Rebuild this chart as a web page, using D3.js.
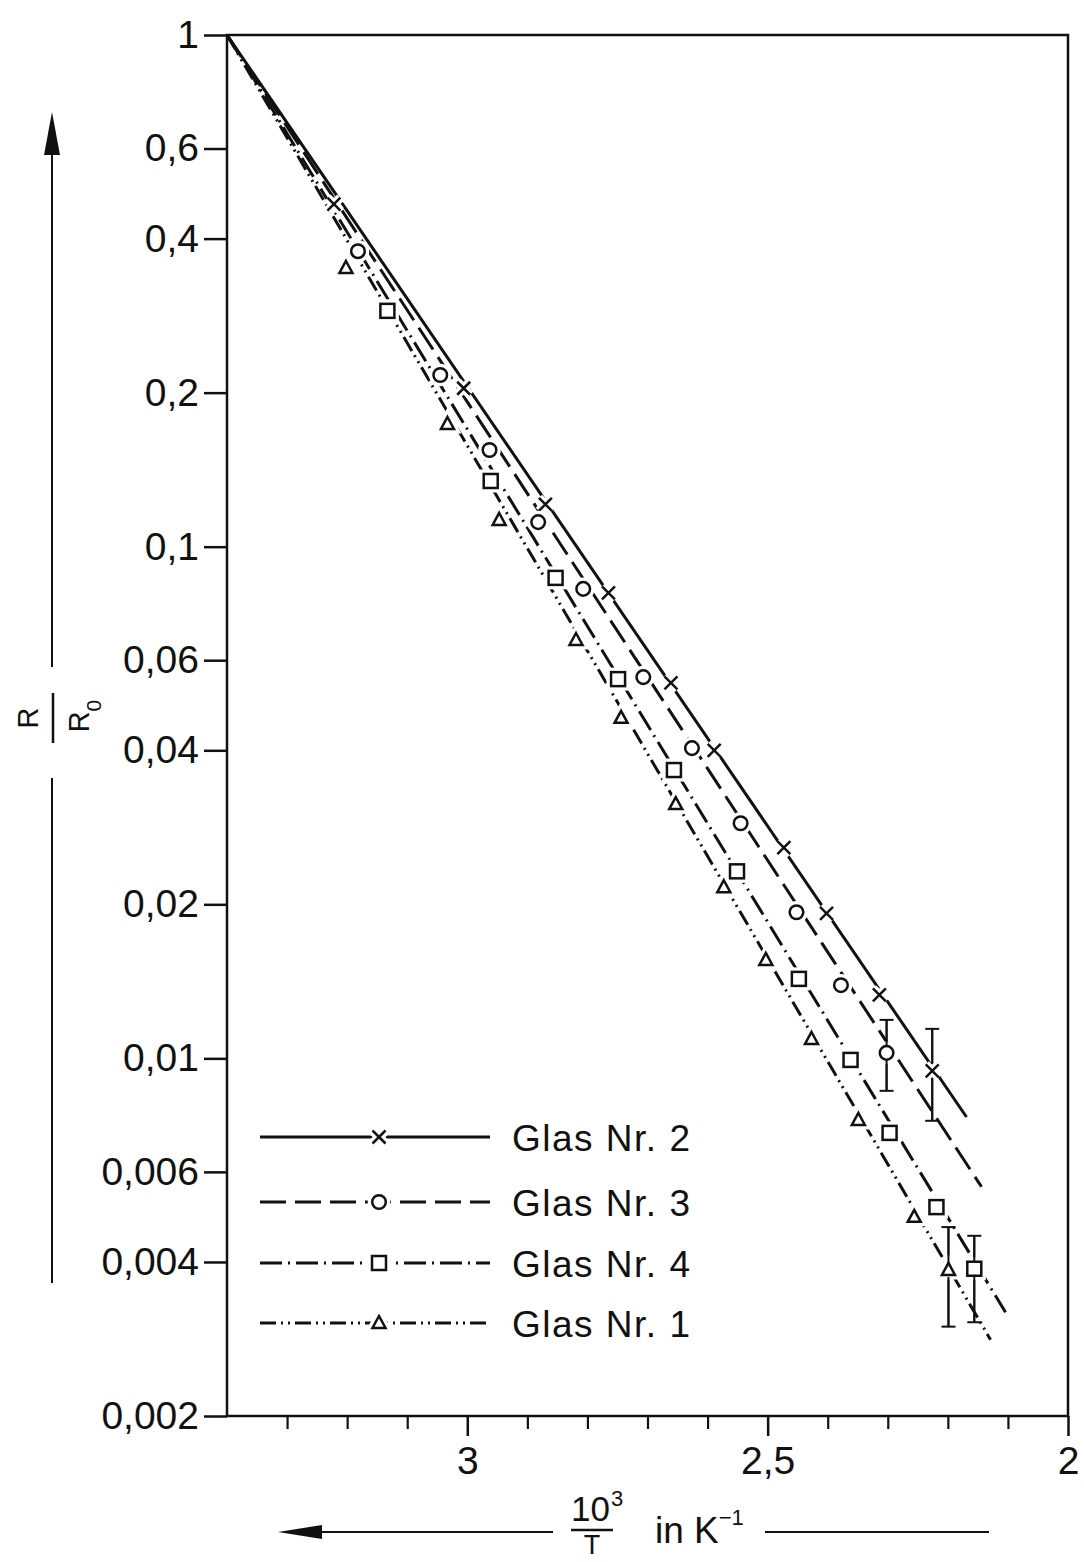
<!DOCTYPE html>
<html>
<head>
<meta charset="utf-8">
<script src="https://cdn.jsdelivr.net/npm/d3@7"></script>
<style>
  body { margin: 0; background: #fff; }
  svg { display: block; }
  text { font-family: "Liberation Sans", Arial, sans-serif; fill: #111; }
</style>
</head>
<body>
<script>
var glas2X = [3.222, 3.006, 2.870, 2.765, 2.661, 2.589, 2.473, 2.402, 2.314, 2.226];
var glas2Y = [0.467, 0.204, 0.121, 0.0812, 0.0542, 0.0400, 0.0258, 0.0192, 0.0133, 0.00945];
var glas3X = [3.182, 3.045, 2.963, 2.882, 2.807, 2.707, 2.626, 2.545, 2.452, 2.378, 2.302];
var glas3Y = [0.378, 0.2165, 0.1545, 0.1117, 0.0827, 0.0556, 0.0404, 0.0288, 0.0193, 0.0139, 0.01025];
var glas4X = [3.133, 2.961, 2.853, 2.749, 2.656, 2.551, 2.448, 2.362, 2.297, 2.219, 2.156];
var glas4Y = [0.289, 0.1344, 0.0869, 0.0551, 0.0366, 0.0232, 0.0143, 0.00993, 0.00715, 0.00512, 0.00388];
var glas1X = [3.202, 3.033, 2.947, 2.819, 2.744, 2.653, 2.573, 2.503, 2.427, 2.349, 2.256, 2.199];
var glas1Y = [0.3505, 0.1737, 0.1128, 0.0657, 0.0463, 0.0314, 0.0216, 0.01557, 0.01091, 0.00758, 0.0049, 0.00386];

// fitted straight lines (start, end)
var fit2X = [3.4, 2.169], fit2Y = [1, 0.00768];
var fit3X = [3.4, 2.144], fit3Y = [1, 0.00561];
var fit4X = [3.4, 2.104], fit4Y = [1, 0.00319];
var fit1X = [3.4, 2.129], fit1Y = [1, 0.00282];

// error bars on the last point
var errX = [2.226, 2.302, 2.156, 2.199];
var errLow = [0.00755, 0.00864, 0.00305, 0.00299];
var errHigh = [0.01142, 0.01189, 0.00450, 0.00468];

var seriesNames = ["Glas Nr. 2", "Glas Nr. 3", "Glas Nr. 4", "Glas Nr. 1"];
var markerTypes = ["cross", "circle", "square", "triangle"];
var dashes = [null, "26,9", "22,6,2,6", "16,5,2,5,2,5"];

var yTicks = [1, 0.6, 0.4, 0.2, 0.1, 0.06, 0.04, 0.02, 0.01, 0.006, 0.004, 0.002];
var yTickLabels = ["1", "0,6", "0,4", "0,2", "0,1", "0,06", "0,04", "0,02", "0,01", "0,006", "0,004", "0,002"];
var xMajor = [3, 2.5, 2];
var xMajorLabels = ["3", "2,5", "2"];
var xMinor = [3.3, 3.2, 3.1, 2.9, 2.8, 2.7, 2.6, 2.4, 2.3, 2.2, 2.1];

var totalWidth = 1084, totalHeight = 1562;
var margins = { left: 227, right: 1068, top: 35, bottom: 1416 };

var series = [
  { xs: glas2X, ys: glas2Y, fx: fit2X, fy: fit2Y },
  { xs: glas3X, ys: glas3Y, fx: fit3X, fy: fit3Y },
  { xs: glas4X, ys: glas4Y, fx: fit4X, fy: fit4Y },
  { xs: glas1X, ys: glas1Y, fx: fit1X, fy: fit1Y }
];

var x = d3.scaleLinear().domain([3.4, 2]).range([margins.left, margins.right]);
var y = d3.scaleLog().domain([1, 0.002]).range([margins.top, margins.bottom]);

var svg = d3.select("body").append("svg")
  .attr("width", totalWidth)
  .attr("height", totalHeight);

var ink = "#111";

// axes
var yAxis = d3.axisLeft(y)
  .tickValues(yTicks)
  .tickFormat(function(d, i) { return yTickLabels[i]; })
  .tickSize(23)
  .tickPadding(5);

var gy = svg.append("g")
  .attr("transform", "translate(" + margins.left + ",0)")
  .call(yAxis);
gy.select(".domain").remove();
gy.selectAll("line").attr("stroke", ink).attr("stroke-width", 2.5);
gy.selectAll("text").attr("font-size", 39).attr("fill", ink)
  .style("font-family", "'Liberation Sans', Arial, sans-serif");

var gxMinor = svg.append("g")
  .attr("transform", "translate(0," + margins.bottom + ")")
  .call(d3.axisBottom(x).tickValues(xMinor).tickSize(13).tickFormat(""));
gxMinor.select(".domain").remove();
gxMinor.selectAll("line").attr("stroke", ink).attr("stroke-width", 2.2);

var gx = svg.append("g")
  .attr("transform", "translate(0," + margins.bottom + ")")
  .call(d3.axisBottom(x).tickValues(xMajor)
    .tickFormat(function(d, i) { return xMajorLabels[i]; })
    .tickSize(20).tickPadding(10));
gx.select(".domain").remove();
gx.selectAll("line").attr("stroke", ink).attr("stroke-width", 2.5);
gx.selectAll("text").attr("font-size", 39).attr("fill", ink)
  .style("font-family", "'Liberation Sans', Arial, sans-serif");

// frame
svg.append("rect")
  .attr("x", margins.left).attr("y", margins.top)
  .attr("width", margins.right - margins.left).attr("height", margins.bottom - margins.top)
  .attr("fill", "none").attr("stroke", ink).attr("stroke-width", 2.5);

// fitted lines
var line = d3.line()
  .x(function(d) { return x(d[0]); })
  .y(function(d) { return y(d[1]); });

series.forEach(function(s, i) {
  svg.append("path")
    .datum(d3.zip(s.fx, s.fy))
    .attr("d", line)
    .attr("fill", "none")
    .attr("stroke", ink)
    .attr("stroke-width", 3)
    .attr("stroke-dasharray", dashes[i]);
});

// error bars
errX.forEach(function(ex, i) {
  var g = svg.append("g").attr("stroke", ink).attr("stroke-width", 2);
  g.append("line").attr("x1", x(ex)).attr("x2", x(ex))
    .attr("y1", y(errLow[i])).attr("y2", y(errHigh[i]));
  [errLow[i], errHigh[i]].forEach(function(v) {
    g.append("line").attr("x1", x(ex) - 7).attr("x2", x(ex) + 7)
      .attr("y1", y(v)).attr("y2", y(v));
  });
});

function drawMarker(g, type, cx, cy) {
  [["#fff", 9], [ink, 2.5]].forEach(function(st) {
    var m;
    if (type === "cross") {
      m = g.append("path").attr("d", "M-6.5,-6.5L6.5,6.5M-6.5,6.5L6.5,-6.5");
    } else if (type === "circle") {
      m = g.append("circle").attr("r", 6.8);
    } else if (type === "square") {
      m = g.append("rect").attr("x", -7).attr("y", -7).attr("width", 14).attr("height", 14);
    } else {
      m = g.append("path").attr("d", "M0,-7L6.5,5L-6.5,5Z");
    }
    m.attr("transform", "translate(" + cx + "," + cy + ")")
      .attr("fill", st[0] === "#fff" ? "#fff" : "none")
      .attr("stroke", st[0]).attr("stroke-width", st[1]);
  });
}

var gm = svg.append("g");
series.forEach(function(s, i) {
  s.xs.forEach(function(v, j) {
    drawMarker(gm, markerTypes[i], x(v), y(s.ys[j]));
  });
});
// redraw error bar stems over the marker halos
errX.forEach(function(ex, i) {
  var yc = y(series[i].ys[series[i].ys.length - 1]);
  var g = svg.append("g").attr("stroke", ink).attr("stroke-width", 2);
  g.append("line").attr("x1", x(ex)).attr("x2", x(ex))
    .attr("y1", y(errHigh[i])).attr("y2", yc - 7);
  g.append("line").attr("x1", x(ex)).attr("x2", x(ex))
    .attr("y1", yc + 7).attr("y2", y(errLow[i]));
});

// legend
var legendY = [1137, 1202, 1263, 1323];
var legend = svg.append("g");
seriesNames.forEach(function(name, i) {
  legend.append("line")
    .attr("x1", 260).attr("x2", 490)
    .attr("y1", legendY[i]).attr("y2", legendY[i])
    .attr("stroke", ink).attr("stroke-width", 3)
    .attr("stroke-dasharray", dashes[i]);
  drawMarker(legend, markerTypes[i], 379, legendY[i]);
  legend.append("text")
    .attr("x", 512).attr("y", legendY[i] + 14)
    .attr("font-size", 37)
    .attr("letter-spacing", 1.5)
    .text(name);
});

// y label: arrow + R / R0
svg.append("path")
  .attr("d", "M52,112L60,155L44,155Z")
  .attr("fill", ink);
svg.append("line").attr("x1", 52).attr("x2", 52).attr("y1", 150).attr("y2", 667)
  .attr("stroke", ink).attr("stroke-width", 2);
svg.append("line").attr("x1", 52).attr("x2", 52).attr("y1", 778).attr("y2", 1283)
  .attr("stroke", ink).attr("stroke-width", 2);

var yl = svg.append("g").attr("transform", "translate(53,718) rotate(-90)");
yl.append("line").attr("x1", -25).attr("x2", 25).attr("y1", 0).attr("y2", 0)
  .attr("stroke", ink).attr("stroke-width", 2.5);
yl.append("text").attr("x", 0).attr("y", -15).attr("text-anchor", "middle")
  .attr("font-size", 29).text("R");
var den = yl.append("text").attr("x", 2).attr("y", 36).attr("text-anchor", "middle")
  .attr("font-size", 29);
den.append("tspan").text("R");
den.append("tspan").attr("font-size", 21).attr("dy", 12).text("0");

// x label: arrow + 10^3/T in K^-1
svg.append("path")
  .attr("d", "M278,1532L322,1525L322,1539Z")
  .attr("fill", ink);
svg.append("line").attr("x1", 318).attr("x2", 553).attr("y1", 1532).attr("y2", 1532)
  .attr("stroke", ink).attr("stroke-width", 2);
svg.append("line").attr("x1", 765).attr("x2", 989).attr("y1", 1532).attr("y2", 1532)
  .attr("stroke", ink).attr("stroke-width", 2);
svg.append("line").attr("x1", 571).attr("x2", 613).attr("y1", 1530).attr("y2", 1530)
  .attr("stroke", ink).attr("stroke-width", 2.5);
var num = svg.append("text").attr("x", 571).attr("y", 1521).attr("font-size", 35);
num.append("tspan").text("10");
num.append("tspan").attr("font-size", 22).attr("dy", -15).attr("dx", 1).text("3");
svg.append("text").attr("x", 592).attr("y", 1554).attr("text-anchor", "middle")
  .attr("font-size", 27).text("T");
var unit = svg.append("text").attr("x", 655).attr("y", 1543).attr("font-size", 37);
unit.append("tspan").text("in K");
unit.append("tspan").attr("font-size", 22).attr("dy", -18).text("\u22121");
</script>
</body>
</html>
